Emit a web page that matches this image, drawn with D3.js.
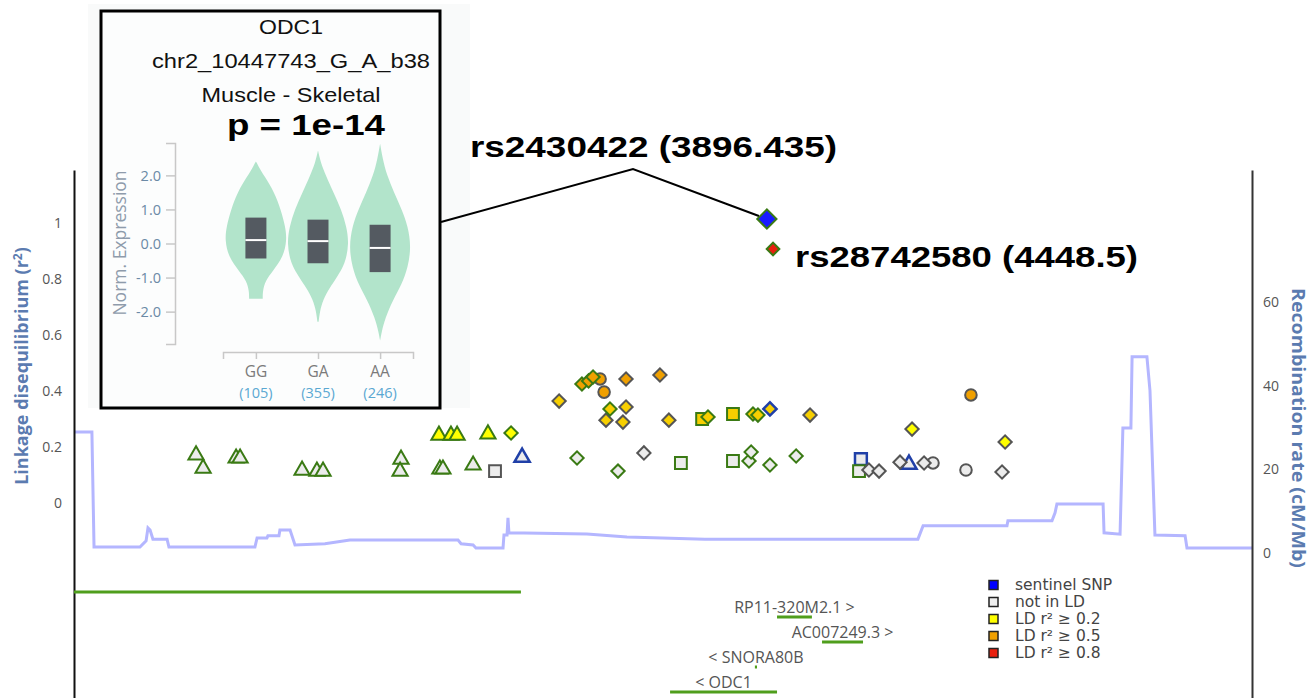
<!DOCTYPE html>
<html>
<head>
<meta charset="utf-8">
<title>ODC1 locus</title>
<script src="https://d3js.org/d3.v7.min.js"></script>
<style>
  body { margin: 0; background: #fff; }
</style>
</head>
<body>
<div id="chart"></div>
<script>

// ---------------- data ----------------
// SNPs per marker shape: [position (kb on chr2), r2 (left axis), LD with lead SNP, outline group]
var triangles = [
  [10201.8, 0.171, 0, "g"], [10204.8, 0.124, 0, "g"], [10218.8, 0.160, 0, "g"],
  [10220.5, 0.160, 0, "g"], [10246.8, 0.117, 0, "g"], [10253.1, 0.113, 0, "g"],
  [10255.7, 0.113, 0, "g"], [10288.8, 0.156, 0, "g"], [10288.4, 0.113, 0, "g"],
  [10305.3, 0.121, 0, "g"], [10306.6, 0.121, 0, "g"], [10319.4, 0.135, 0, "g"],
  [10304.9, 0.242, 0.25, "g"], [10310.0, 0.242, 0.25, "g"], [10312.6, 0.242, 0.25, "g"],
  [10325.7, 0.246, 0.25, "g"], [10340.2, 0.163, 0, "b"], [10504.4, 0.138, 0, "b"]
];
var squares = [
  [10328.7, 0.114, 0, "k"], [10407.6, 0.143, 0, "g"], [10429.7, 0.150, 0, "g"],
  [10416.6, 0.300, 0.4, "g"], [10429.7, 0.318, 0.4, "g"], [10484.0, 0.157, 0, "b"],
  [10483.2, 0.114, 0, "g"]
];
var circles = [
  [10373.3, 0.443, 0.6, "k"], [10375.0, 0.396, 0.6, "k"], [10514.6, 0.143, 0, "k"],
  [10528.6, 0.118, 0, "k"], [10530.7, 0.386, 0.6, "k"]
];
var diamonds = [
  [10335.5, 0.250, 0.25, "g"], [10363.5, 0.161, 0, "g"], [10380.9, 0.114, 0, "g"],
  [10391.9, 0.179, 0, "k"], [10436.5, 0.150, 0, "g"], [10437.4, 0.182, 0, "g"],
  [10445.4, 0.136, 0, "g"], [10456.5, 0.168, 0, "g"], [10487.4, 0.118, 0, "k"],
  [10491.7, 0.114, 0, "k"], [10500.6, 0.146, 0, "k"], [10510.8, 0.143, 0, "k"],
  [10543.9, 0.111, 0, "k"], [10355.9, 0.364, 0.4, "k"], [10375.8, 0.296, 0.4, "k"],
  [10383.0, 0.289, 0.4, "k"], [10384.3, 0.343, 0.4, "k"], [10377.5, 0.336, 0.4, "g"],
  [10402.5, 0.296, 0.4, "k"], [10419.1, 0.307, 0.4, "g"], [10438.2, 0.318, 0.4, "g"],
  [10440.3, 0.314, 0.4, "g"], [10445.4, 0.336, 0.4, "b"], [10462.4, 0.314, 0.4, "k"],
  [10505.7, 0.264, 0.25, "k"], [10545.2, 0.218, 0.25, "k"], [10384.3, 0.443, 0.6, "k"],
  [10398.7, 0.457, 0.6, "k"], [10365.6, 0.425, 0.6, "g"], [10368.4, 0.436, 0.6, "g"],
  [10370.3, 0.450, 0.6, "g"]
];
// lead variants
var sentinel = [10444.1, 1.014];
var topHit = [10446.7, 0.907];
var sentinelLabel = "rs2430422 (3896.435)";
var topHitLabel = "rs28742580 (4448.5)";

// recombination rate (cM/Mb), step line
var recombPos = [10150.0, 10157.6, 10158.5, 10178.0, 10180.6, 10181.4, 10182.3, 10183.5, 10189.5,
  10190.3, 10226.8, 10227.7, 10231.9, 10232.3, 10237.0, 10237.4, 10241.7, 10243.8, 10256.5,
  10267.1, 10313.0, 10314.3, 10319.4, 10320.6, 10332.1, 10332.5, 10333.8, 10334.2, 10334.6,
  10367.7, 10384.7, 10399.6, 10417.8, 10508.2, 10510.4, 10546.0, 10546.4, 10565.1, 10566.4,
  10567.2, 10586.8, 10587.2, 10594.0, 10595.2, 10598.6, 10599.1, 10605.4, 10606.7, 10608.8,
  10621.6, 10622.4, 10650.0];
var recombRate = [28.9, 28.9, 1.4, 1.4, 2.9, 6.0, 5.5, 3.3, 3.3,
  1.4, 1.4, 3.6, 3.6, 4.1, 4.1, 5.5, 5.5, 1.9, 2.2,
  3.1, 3.1, 2.2, 1.9, 1.2, 1.2, 4.3, 4.3, 8.4, 4.8,
  4.5, 3.8, 3.6, 3.3, 3.3, 6.5, 6.5, 7.7, 7.7, 9.6,
  11.7, 11.7, 4.8, 4.5, 29.9, 29.9, 46.9, 46.9, 38.8, 4.3,
  4.1, 1.2, 1.2];

// genes
var geneNames = [null, "RP11-320M2.1", "AC007249.3", "SNORA80B", "ODC1"];
var geneStart = [10150.0, 10448.4, 10467.5, 10439.0, 10403.0];
var geneEnd = [10339.7, 10463.2, 10484.9, 10439.9, 10448.4];
var geneStrand = ["+", "+", "+", "-", "-"];

var ldTicks = [0, 0.2, 0.4, 0.6, 0.8, 1];
var recombTicks = [0, 20, 40, 60];

var legendLabels = ["sentinel SNP", "not in LD", "LD r\u00b2 \u2265 0.2", "LD r\u00b2 \u2265 0.5", "LD r\u00b2 \u2265 0.8"];

// eQTL violin inset
var insetTitle = ["ODC1", "chr2_10447743_G_A_b38", "Muscle - Skeletal"];
var insetP = "p = 1e-14";
var genotypes = ["GG", "GA", "AA"];
var genotypeCounts = [105, 355, 246];
var exprTicks = [-2, -1, 0, 1, 2];
// [normalised expression, relative density]
var violinGG = [[2.41, 0], [2.2, 0.12], [2.0, 0.26], [1.5, 0.6], [1.0, 0.8], [0.5, 0.95], [0.1, 1],
  [-0.4, 0.88], [-0.8, 0.55], [-1.1, 0.3], [-1.4, 0.22], [-1.62, 0.22]];
var violinGA = [[2.73, 0], [2.4, 0.08], [2.0, 0.25], [1.5, 0.5], [1.0, 0.75], [0.5, 0.92], [0.0, 1],
  [-0.6, 0.88], [-1.0, 0.6], [-1.3, 0.38], [-1.65, 0.16], [-2.0, 0.06], [-2.3, 0.02]];
var violinAA = [[2.93, 0], [2.5, 0.08], [2.0, 0.22], [1.5, 0.45], [1.0, 0.7], [0.5, 0.9], [-0.1, 1],
  [-0.7, 0.9], [-1.2, 0.7], [-1.65, 0.42], [-2.2, 0.16], [-2.6, 0.05], [-2.85, 0]];
var boxQ1 = [-0.44, -0.58, -0.84];
var boxMedian = [0.10, 0.07, -0.13];
var boxQ3 = [0.76, 0.70, 0.55];

// ---------------- chart ----------------
var W = 1313, H = 698;
var svg = d3.select("#chart").append("svg")
    .attr("width", W)
    .attr("height", H)
    .attr("font-family", "Open Sans, sans-serif");

var x = d3.scaleLinear().domain([10150, 10650]).range([74, 1252]);
var yLD = d3.scaleLinear().domain([-0.696, 1.189]).range([698, 170]);
var yRec = d3.scaleLinear().domain([-34.7, 91.6]).range([698, 170]);

var ldFill = d3.scaleThreshold()
    .domain([0.2, 0.35, 0.5, 0.8])
    .range(["#ececec", "#ffff00", "#f7cf00", "#f0a000", "#e8200e"]);
var outline = d3.scaleOrdinal()
    .domain(["g", "k", "b"])
    .range(["#3a7a14", "#555555", "#2040a8"]);

// recombination line
svg.append("path")
    .datum(recombPos.map(function(p, i) { return [p, recombRate[i]]; }))
    .attr("fill", "none")
    .attr("stroke", "#b4b6ff")
    .attr("stroke-width", 3)
    .attr("d", d3.line()
        .x(function(d) { return x(d[0]); })
        .y(function(d) { return yRec(d[1]); }));

// axes
var leftAxis = svg.append("g")
    .attr("transform", "translate(74,0)")
    .call(d3.axisLeft(yLD).tickValues(ldTicks).tickSize(0).tickSizeOuter(0).tickPadding(12)
        .tickFormat(d3.format("~g")));
leftAxis.select(".domain").attr("stroke", "#111").attr("stroke-width", 2);
leftAxis.selectAll("text").attr("font-size", 14).attr("fill", "#555")
    .attr("font-family", "Open Sans, sans-serif");

var rightAxis = svg.append("g")
    .attr("transform", "translate(1252,0)")
    .call(d3.axisRight(yRec).tickValues(recombTicks).tickSize(0).tickSizeOuter(0).tickPadding(11));
rightAxis.select(".domain").attr("stroke", "#333").attr("stroke-width", 2);
rightAxis.selectAll("text").attr("font-size", 14).attr("fill", "#555")
    .attr("font-family", "Open Sans, sans-serif");

var ylab = svg.append("text")
    .attr("transform", "translate(28,366) rotate(-90)")
    .attr("text-anchor", "middle")
    .attr("font-size", 18)
    .attr("font-weight", "bold")
    .attr("fill", "#5b7bb0");
ylab.append("tspan").text("Linkage disequilibrium (r");
ylab.append("tspan").attr("dy", -6).attr("font-size", 12).text("2");
ylab.append("tspan").attr("dy", 6).text(")");

svg.append("text")
    .attr("transform", "translate(1292,428) rotate(90)")
    .attr("text-anchor", "middle")
    .attr("font-size", 18)
    .attr("font-weight", "bold")
    .attr("fill", "#5b7bb0")
    .attr("textLength", 280)
    .attr("lengthAdjust", "spacingAndGlyphs")
    .text("Recombination rate (cM/Mb)");

// genes
var genes = svg.append("g");
geneNames.forEach(function(name, i) {
    var gy = 592 + i * 25;
    genes.append("line")
        .attr("x1", x(geneStart[i])).attr("x2", x(geneEnd[i]))
        .attr("y1", gy).attr("y2", gy)
        .attr("stroke", "#4f9e1c")
        .attr("stroke-width", 3);
    if (name) {
        genes.append("text")
            .attr("x", (x(geneStart[i]) + x(geneEnd[i])) / 2)
            .attr("y", gy - 4)
            .attr("text-anchor", "middle")
            .attr("font-size", 16)
            .attr("fill", "#555")
            .text(geneStrand[i] === "+" ? name + " >" : "< " + name);
    }
});

// SNP markers
function drawSnps(data, type, size, rotate) {
    svg.append("g").selectAll("path")
        .data(data)
        .join("path")
        .attr("d", d3.symbol(type, size))
        .attr("transform", function(d) {
            return "translate(" + x(d[0]) + "," + yLD(d[1]) + ")" + (rotate ? " rotate(45)" : "");
        })
        .attr("fill", function(d) { return ldFill(d[2]); })
        .attr("stroke", function(d) { return outline(d[3]); })
        .attr("stroke-width", function(d) { return d[3] === "b" ? 2.5 : 2; });
}
drawSnps(circles, d3.symbolCircle, 105, false);
drawSnps(squares, d3.symbolSquare, 140, false);
drawSnps(triangles, d3.symbolTriangle, 100, false);
drawSnps(diamonds, d3.symbolSquare, 88, true);

// lead SNPs
svg.append("path")
    .attr("d", d3.symbol(d3.symbolSquare, 185))
    .attr("transform", "translate(" + x(sentinel[0]) + "," + yLD(sentinel[1]) + ") rotate(45)")
    .attr("fill", "#1a1aff")
    .attr("stroke", "#3a7a14")
    .attr("stroke-width", 2);
svg.append("path")
    .attr("d", d3.symbol(d3.symbolSquare, 80))
    .attr("transform", "translate(" + x(topHit[0]) + "," + yLD(topHit[1]) + ") rotate(45)")
    .attr("fill", "#e8200e")
    .attr("stroke", "#3a7a14")
    .attr("stroke-width", 2);

svg.append("text")
    .attr("x", 470).attr("y", 157)
    .attr("font-family", "Liberation Sans, Arial, sans-serif")
    .attr("font-weight", "bold")
    .attr("font-size", 29)
    .attr("textLength", 367)
    .attr("lengthAdjust", "spacingAndGlyphs")
    .attr("fill", "#000")
    .text(sentinelLabel);
svg.append("text")
    .attr("x", x(topHit[0]) + 22).attr("y", 267)
    .attr("font-family", "Liberation Sans, Arial, sans-serif")
    .attr("font-weight", "bold")
    .attr("font-size", 29)
    .attr("textLength", 343)
    .attr("lengthAdjust", "spacingAndGlyphs")
    .attr("fill", "#000")
    .text(topHitLabel);

// legend
var legendColors = ["#0000ff", "#eeeeee", "#ffff00", "#f0a000", "#e8200e"];
var legend = svg.append("g").attr("transform", "translate(989,585)");
legendLabels.forEach(function(lab, i) {
    legend.append("rect")
        .attr("x", 0).attr("y", i * 17 - 4.5)
        .attr("width", 9).attr("height", 9)
        .attr("fill", legendColors[i])
        .attr("stroke", "#222")
        .attr("stroke-width", 1.5);
    legend.append("text")
        .attr("x", 26).attr("y", i * 17)
        .attr("dy", "0.35em")
        .attr("font-family", "DejaVu Sans, sans-serif")
        .attr("font-size", 15.5)
        .attr("fill", "#444")
        .text(lab);
});

// ---------------- inset: eQTL violins ----------------
var inset = svg.append("g");
inset.append("rect")
    .attr("x", 88).attr("y", 4).attr("width", 382).attr("height", 404)
    .attr("fill", "#f9fafa");
inset.append("rect")
    .attr("x", 101).attr("y", 11).attr("width", 339).attr("height", 397)
    .attr("fill", "#fcfdfd")
    .attr("stroke", "#000")
    .attr("stroke-width", 3);

var titleBase = [34, 68, 102];
var titleLen = [64, 278, 179];
insetTitle.forEach(function(t, i) {
    inset.append("text")
        .attr("x", 291 - titleLen[i] / 2).attr("y", titleBase[i])
        .attr("font-family", "Liberation Sans, Arial, sans-serif")
        .attr("font-size", 21)
        .attr("textLength", titleLen[i])
        .attr("lengthAdjust", "spacingAndGlyphs")
        .attr("fill", "#111")
        .text(t);
});
inset.append("text")
    .attr("x", 227).attr("y", 135)
    .attr("font-family", "Liberation Sans, Arial, sans-serif")
    .attr("font-weight", "bold")
    .attr("font-size", 29)
    .attr("textLength", 158)
    .attr("lengthAdjust", "spacingAndGlyphs")
    .attr("fill", "#000")
    .text(insetP);

var vy = d3.scaleLinear().domain([-2.95, 2.95]).range([344, 143]);
var vx = d3.scalePoint().domain(genotypes).range([223, 413]).padding(0.53);
var vw = d3.scaleLinear().domain([0, 1]).range([0, 31]);

var vAxis = inset.append("g")
    .attr("transform", "translate(175,0)")
    .call(d3.axisLeft(vy).tickValues(exprTicks).tickSize(9).tickSizeOuter(9).tickPadding(5)
        .tickFormat(function(d) { return d.toFixed(1); }));
vAxis.selectAll("path, line").attr("stroke", "#c8c8c8").attr("stroke-width", 1.5);
vAxis.selectAll("text").attr("font-size", 14.5).attr("fill", "#6b8aa6")
    .attr("font-family", "Open Sans, sans-serif");

var gAxis = inset.append("g")
    .attr("transform", "translate(0,352)")
    .call(d3.axisBottom(vx).tickSize(7).tickSizeOuter(7).tickFormat(""));
gAxis.selectAll("path, line").attr("stroke", "#c8c8c8").attr("stroke-width", 1.5);

inset.append("text")
    .attr("transform", "translate(126,243) rotate(-90)")
    .attr("text-anchor", "middle")
    .attr("font-size", 17.5)
    .attr("fill", "#8e9bab")
    .text("Norm. Expression");

var violins = [violinGG, violinGA, violinAA];
genotypes.forEach(function(g, i) {
    var cx = vx(g);
    inset.append("path")
        .datum(violins[i])
        .attr("fill", "#b2e4cb")
        .attr("d", d3.area()
            .curve(d3.curveBasis)
            .y(function(d) { return vy(d[0]); })
            .x0(function(d) { return cx - vw(d[1]); })
            .x1(function(d) { return cx + vw(d[1]); }));
    inset.append("rect")
        .attr("x", cx - 10.5).attr("width", 21)
        .attr("y", vy(boxQ3[i]))
        .attr("height", vy(boxQ1[i]) - vy(boxQ3[i]))
        .attr("fill", "#545a61");
    inset.append("line")
        .attr("x1", cx - 10.5).attr("x2", cx + 10.5)
        .attr("y1", vy(boxMedian[i])).attr("y2", vy(boxMedian[i]))
        .attr("stroke", "#fff")
        .attr("stroke-width", 2);
    inset.append("text")
        .attr("x", cx).attr("y", 377)
        .attr("text-anchor", "middle")
        .attr("font-size", 15.5)
        .attr("fill", "#7a7a7a")
        .text(g);
    inset.append("text")
        .attr("x", cx).attr("y", 398)
        .attr("text-anchor", "middle")
        .attr("font-size", 14.5)
        .attr("fill", "#5aa8d2")
        .text("(" + genotypeCounts[i] + ")");
});

// connector from inset to sentinel
svg.append("path")
    .attr("d", "M441,222 L633,169 L" + (x(sentinel[0]) - 8) + "," + (yLD(sentinel[1]) - 3))
    .attr("fill", "none")
    .attr("stroke", "#000")
    .attr("stroke-width", 2);

</script>
</body>
</html>
